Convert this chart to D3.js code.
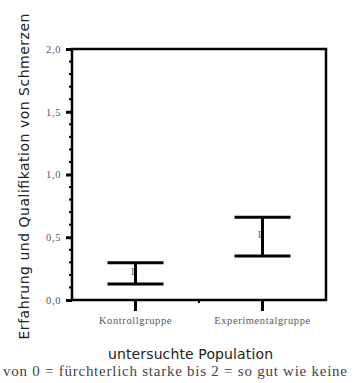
<!DOCTYPE html>
<html><head><meta charset="utf-8">
<script src="https://cdn.jsdelivr.net/npm/d3@7"></script>
<style>html,body{margin:0;padding:0;background:#fff;overflow:hidden}svg{display:block}</style>
</head><body>
<svg id="c" width="364" height="383" viewBox="0 0 364 383"></svg>
<script>
const categories = ["Kontrollgruppe", "Experimentalgruppe"];
const means = [0.21, 0.505];
const lower = [0.127, 0.351];
const upper = [0.297, 0.659];
const yTicks = [0, 0.5, 1.0, 1.5, 2.0];
const yTitle = "Erfahrung und Qualifikation von Schmerzen";
const xTitle = "untersuchte Population";
const note = "von 0 = fürchterlich starke bis 2 = so gut wie keine";

const svg = d3.select("#c");
const m = {l:72, r:326, t:49, b:300};
const x = d3.scaleBand().domain(categories).range([m.l, m.r]);
const y = d3.scaleLinear().domain([0, 2]).range([m.b, m.t]);
const serif = "'Liberation Serif','Times New Roman',serif";
const sans = "'DejaVu Sans',sans-serif";

// y axis
const ya = svg.append("g").attr("transform", `translate(${m.l},0)`)
  .call(d3.axisLeft(y).tickValues(yTicks).tickSize(6).tickPadding(5).tickFormat(d => d3.format(".1f")(d).replace(".", ",")));
ya.select(".domain").remove();
ya.selectAll(".tick line").attr("stroke", "#000").attr("stroke-width", 3);
ya.selectAll(".tick text").attr("font-family", serif).attr("font-size", 10.5).attr("fill", "#555").attr("letter-spacing", 0.6);
// minor ticks
const minor = d3.range(0, 2.0001, 0.1).filter(v => Math.abs(v * 2 - Math.round(v * 2)) > 1e-6);
svg.append("g").selectAll("line").data(minor).join("line")
  .attr("x1", m.l - 3).attr("x2", m.l).attr("y1", d => y(d)).attr("y2", d => y(d))
  .attr("stroke", "#000").attr("stroke-width", 2);

// x axis
const xa = svg.append("g").attr("transform", `translate(0,${m.b})`)
  .call(d3.axisBottom(x).tickSize(11).tickPadding(6));
xa.select(".domain").remove();
xa.selectAll(".tick line").attr("stroke", "#000").attr("stroke-width", 3);
xa.selectAll(".tick text").attr("font-family", serif).attr("font-size", 10.5).attr("fill", "#555").attr("letter-spacing", 0.6);
// band separator tick
svg.append("line").attr("x1", x(categories[1])).attr("x2", x(categories[1]))
  .attr("y1", m.b).attr("y2", m.b + 3).attr("stroke", "#000").attr("stroke-width", 2);

// error bars
const capW = 28;
const g = svg.append("g");
categories.forEach((c, i) => {
  const cx = x(c) + x.bandwidth() / 2;
  g.append("line").attr("x1", cx).attr("x2", cx).attr("y1", y(upper[i])).attr("y2", y(lower[i]))
    .attr("stroke", "#000").attr("stroke-width", 3);
  [upper[i], lower[i]].forEach(v => {
    g.append("line").attr("x1", cx - capW).attr("x2", cx + capW).attr("y1", y(v)).attr("y2", y(v))
      .attr("stroke", "#000").attr("stroke-width", 3);
  });
  g.append("text").attr("x", cx - 3).attr("y", y(means[i]) + 1)
    .attr("text-anchor", "middle").attr("font-family", serif).attr("font-size", 11)
    .attr("fill", "#666").text("I");
});

// titles
svg.append("text").attr("transform", `translate(29,176.5) rotate(-90)`).attr("text-anchor", "middle")
  .attr("font-family", sans).attr("font-size", 14).attr("fill", "#222")
  .attr("textLength", 326).attr("lengthAdjust", "spacing").text(yTitle);
svg.append("text").attr("x", 190.5).attr("y", 359).attr("text-anchor", "middle")
  .attr("font-family", sans).attr("font-size", 14).attr("fill", "#222")
  .attr("textLength", 165).attr("lengthAdjust", "spacing").text(xTitle);
svg.append("text").attr("x", 175).attr("y", 376).attr("text-anchor", "middle")
  .attr("font-family", serif).attr("font-size", 15).attr("fill", "#444")
  .attr("textLength", 344).attr("lengthAdjust", "spacing").text(note);

// plot frame, drawn last so it sits on top
const [fx0, fx1] = x.range();
const frame = d3.path();
frame.rect(fx0, y(2), fx1 - fx0, y(0) - y(2));
svg.append("path").attr("d", frame.toString())
  .attr("fill", "none").attr("stroke", "black").attr("stroke-width", 2.5)
  .style("stroke", "#000");
</script>
</body></html>
